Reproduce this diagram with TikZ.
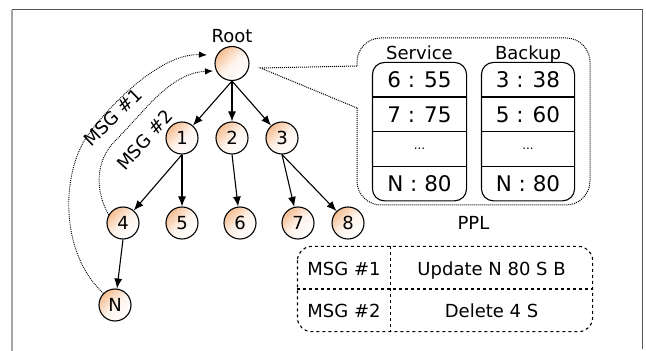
\documentclass[tikz,border=0pt]{standalone}
\usepackage{fontspec}
\setmainfont{DejaVu Sans}
\usetikzlibrary{arrows.meta,positioning}
\definecolor{peach}{HTML}{F6BE92}
\definecolor{framegray}{HTML}{555555}

\tikzset{
  vertex/.style={circle, draw, minimum size=32pt, inner sep=0pt,
    top color=peach, bottom color=white, middle color=peach!18, shading angle=45,
    font=\fontsize{18}{21}\selectfont},
  lbl/.style={inner sep=1pt, font=\fontsize{18}{21}\selectfont},
  entry/.style={minimum height=33.5pt, inner sep=0pt, font=\fontsize{21.5}{25}\selectfont},
  cell/.style={minimum height=41.5pt, inner sep=0pt, text height=15pt, text depth=0pt,
    font=\fontsize{18}{21}\selectfont},
  msg/.style={densely dotted, line width=0.9pt, -{Latex[length=8pt,width=6.5pt]}},
}

\begin{document}
\begin{tikzpicture}[x=1pt, y=1pt, line width=1.1pt, >={Latex[length=10pt,width=8pt]}]
\useasboundingbox (0,0) rectangle (646,351);
% frame, open at the bottom
\draw[gray!70, line width=1.8pt] (12,0) -- (12,341);
\draw[framegray, line width=1pt] (12,341) -- (642,341) -- (642,2);

% the tree
\node[vertex, minimum size=34pt] (root) at (232,287.5) {};
\node[lbl, above=1.5pt of root] (rootlbl) {Root};
\foreach \n/\x/\y in {1/182/213, 2/232/213, 3/282/213, 4/123/128, 5/182/128,
                      6/240/128, 7/298/128, 8/348/128, N/115/46}
  \node[vertex] (n\n) at (\x,\y) {\n};
\foreach \a/\b in {root/n1, root/n2, root/n3, n1/n4, n1/n5, n2/n6, n3/n7, n3/n8, n4/nN}
  \draw[->] (\a.south) -- (\b);

% messages sent up to the root
\coordinate (m1end) at (207,296);
\coordinate (m2end) at (213,280);
\draw[msg] (nN.135) .. controls (58,100) and (62,180) .. (88,216)
  .. controls (108,244) and (160,298) .. (m1end);
\draw[msg] (n4.150) .. controls (95,160) and (95,190) .. (115,210)
  .. controls (145,240) and (170,278) .. (m2end);
\node[lbl, rotate=44] (msg1lbl) at (113,234) {MSG \#1};
\node[lbl, rotate=48] (msg2lbl) at (145,211) {MSG \#2};

% PPL bubble
\coordinate (tip) at ([shift={(11pt,-4.5pt)}]root.east);
\draw[densely dotted, line width=1pt, rounded corners=24pt]
  (357,243) -- (357,146) -- (590,146) -- (590,313) -- (357,313) -- (357,285);
\draw[densely dotted, line width=1pt] (357,285) -- (tip) -- (357,243);

% service column
\node[entry, minimum width=93pt] (s1) at (419.5,271.25) {6 : 55};
\node[entry, minimum width=93pt, below=0pt of s1] (s2) {7 : 75};
\node[entry, minimum width=93pt, below=0pt of s2, font=\fontsize{12}{14}\selectfont] (s3) {...};
\node[entry, minimum width=93pt, below=0pt of s3] (s4) {N : 80};
\draw[rounded corners=12pt] (s1.north west) rectangle (s4.south east);
\foreach \i in {1,2,3}
  \draw (s\i.south west) -- (s\i.south east);
\node[lbl, anchor=base] (svclbl) at ([yshift=2.5pt]s1.north) {Service};

% backup column
\node[entry, minimum width=92pt] (b1) at (528,271.25) {3 : 38};
\node[entry, minimum width=92pt, below=0pt of b1] (b2) {5 : 60};
\node[entry, minimum width=92pt, below=0pt of b2, font=\fontsize{12}{14}\selectfont] (b3) {...};
\node[entry, minimum width=92pt, below=0pt of b3] (b4) {N : 80};
\draw[rounded corners=12pt] (b1.north west) rectangle (b4.south east);
\foreach \i in {1,2,3}
  \draw (b\i.south west) -- (b\i.south east);
\node[lbl, anchor=base] (bkplbl) at ([yshift=2.5pt]b1.north) {Backup};

\node[lbl, anchor=base] (ppllbl) at (473.5,121) {PPL};

% message table
\node[cell, minimum width=92pt] (m1) at (344,83.25) {MSG \#1};
\node[cell, minimum width=201pt, right=0pt of m1] (u1) {Update N 80 S B};
\node[cell, minimum width=92pt, below=0pt of m1] (m2) {MSG \#2};
\node[cell, minimum width=201pt, right=0pt of m2] (u2) {Delete 4 S};
\draw[dashed, rounded corners=14pt] (m1.north west) rectangle (u2.south east);
\draw[dashed] (m1.south west) -- (u1.south east);
\draw[dashed] (m1.north east) -- (m2.south east);
\end{tikzpicture}
\end{document}
